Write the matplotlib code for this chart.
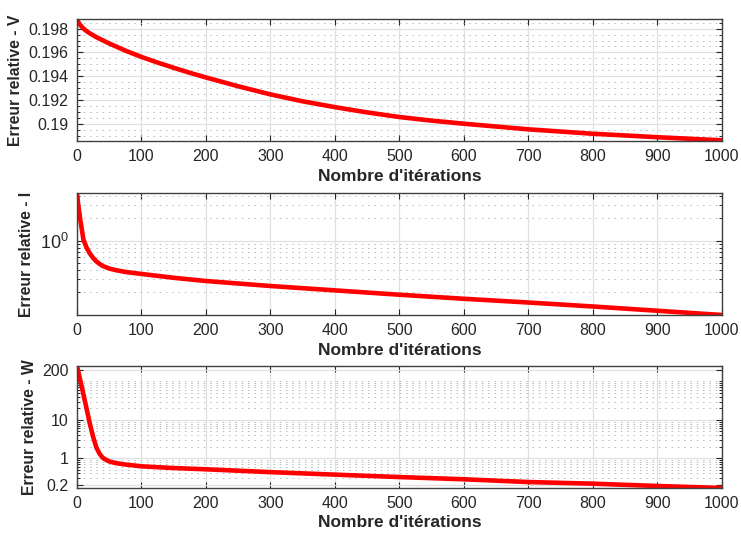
import numpy as np
import matplotlib
matplotlib.use("Agg")
import matplotlib.pyplot as plt
from matplotlib.ticker import MultipleLocator, LogLocator, FixedLocator, FixedFormatter, NullFormatter

# values
iter_v = [0, 2, 5, 10, 15, 20, 30, 50, 75, 100, 125, 150, 175, 200, 250, 300, 350, 400,
          450, 500, 550, 600, 700, 800, 900, 1000]
err_v = [0.19878, 0.19855, 0.1983, 0.1980, 0.19778, 0.1976, 0.19728, 0.19675, 0.19615,
         0.19562, 0.19515, 0.19471, 0.19429, 0.1939, 0.19316, 0.19248, 0.1919, 0.19141,
         0.19097, 0.19058, 0.19028, 0.19002, 0.18955, 0.18918, 0.18889, 0.18863]

iter_i = [0, 2, 5, 10, 15, 20, 25, 30, 35, 40, 50, 60, 75, 100, 150, 200, 300, 400,
          500, 600, 700, 800, 900, 1000]
err_i = [4.4, 3.0, 1.94, 1.03, 0.80, 0.67, 0.585, 0.525, 0.485, 0.455, 0.42, 0.40, 0.378,
         0.355, 0.315, 0.285, 0.244, 0.213, 0.186, 0.164, 0.146, 0.129, 0.113, 0.099]

iter_w = [0, 5, 10, 15, 20, 25, 30, 35, 40, 45, 50, 60, 75, 100, 150, 200, 300, 400,
          500, 600, 700, 800, 900, 1000]
err_w = [254, 110, 46, 19, 7.8, 3.6, 1.9, 1.3, 1.02, 0.9, 0.82, 0.74, 0.68, 0.61, 0.55,
         0.51, 0.43, 0.37, 0.32, 0.28, 0.237, 0.215, 0.187, 0.166]

w_ticks = [0.2, 1, 10, 200]
w_ticklabels = ['0.2', '1', '10', '200']
x_ticks = list(range(0, 1001, 100))

plt.rcParams['font.family'] = ['Liberation Sans', 'DejaVu Sans']
plt.rcParams['mathtext.default'] = 'regular'

txt = '#262626'
fig = plt.figure(figsize=(7.41, 5.35), dpi=100)

def style_ax(ax, ylab):
    ax.set_xlim(0, 1000)
    ax.xaxis.set_major_locator(FixedLocator(x_ticks))
    ax.tick_params(which='both', direction='in', top=True, right=True,
                   colors='0.15', labelcolor=txt, labelsize=11.5, pad=6)
    ax.tick_params(which='major', length=4, width=0.8)
    ax.tick_params(which='minor', length=2.5, width=0.7)
    ax.tick_params(axis='x', which='minor', bottom=False, top=False)
    for s in ax.spines.values():
        s.set_color('0.25')
        s.set_linewidth(1.0)
    ax.grid(True, which='major', color='0.88', lw=0.9, ls='-')
    ax.grid(True, which='minor', axis='y', color='0.72', lw=0.7, ls=(0, (1.5, 5)))
    ax.set_axisbelow(True)
    ax.set_xlabel("Nombre d'itérations", fontsize=12.5, fontweight='bold', color=txt, labelpad=3)
    ax.set_ylabel(ylab, fontsize=11.3, fontweight='bold', color=txt, labelpad=4)

ax1 = fig.add_axes([0.1039, 0.7364, 0.8704, 0.228])
ax1.plot(iter_v, err_v, color='red', lw=3.3, solid_joinstyle='round')
ax1.set_ylim(0.18857, 0.19880)
ax1.yaxis.set_major_locator(MultipleLocator(0.002))
ax1.yaxis.set_minor_locator(MultipleLocator(0.0005))
ax1.yaxis.set_major_formatter(matplotlib.ticker.FuncFormatter(lambda v, p: f"{v:g}"))
style_ax(ax1, 'Erreur relative - V')

ax2 = fig.add_axes([0.1039, 0.4112, 0.8704, 0.228])
ax2.plot(iter_i, err_i, color='red', lw=3.3, solid_joinstyle='round')
ax2.set_yscale('log')
ax2.set_ylim(0.099, 4.4)
ax2.yaxis.set_major_locator(FixedLocator([1]))
ax2.yaxis.set_major_formatter(FixedFormatter(['$10^0$']))
ax2.yaxis.set_minor_locator(LogLocator(base=10, subs=np.arange(2, 10)))
ax2.yaxis.set_minor_formatter(NullFormatter())
style_ax(ax2, 'Erreur relative - I')
ax2.tick_params(axis='y', which='major', labelsize=13)

ax3 = fig.add_axes([0.1039, 0.0879, 0.8704, 0.228])
ax3.plot(iter_w, err_w, color='red', lw=3.3, solid_joinstyle='round')
ax3.set_yscale('log')
ax3.set_ylim(0.166, 254)
ax3.yaxis.set_major_locator(FixedLocator(w_ticks))
ax3.yaxis.set_major_formatter(FixedFormatter(w_ticklabels))
ax3.yaxis.set_minor_locator(LogLocator(base=10, subs=np.arange(1, 10)))
ax3.yaxis.set_minor_formatter(NullFormatter())
style_ax(ax3, 'Erreur relative - W')

fig.savefig('out.png', dpi=100)
